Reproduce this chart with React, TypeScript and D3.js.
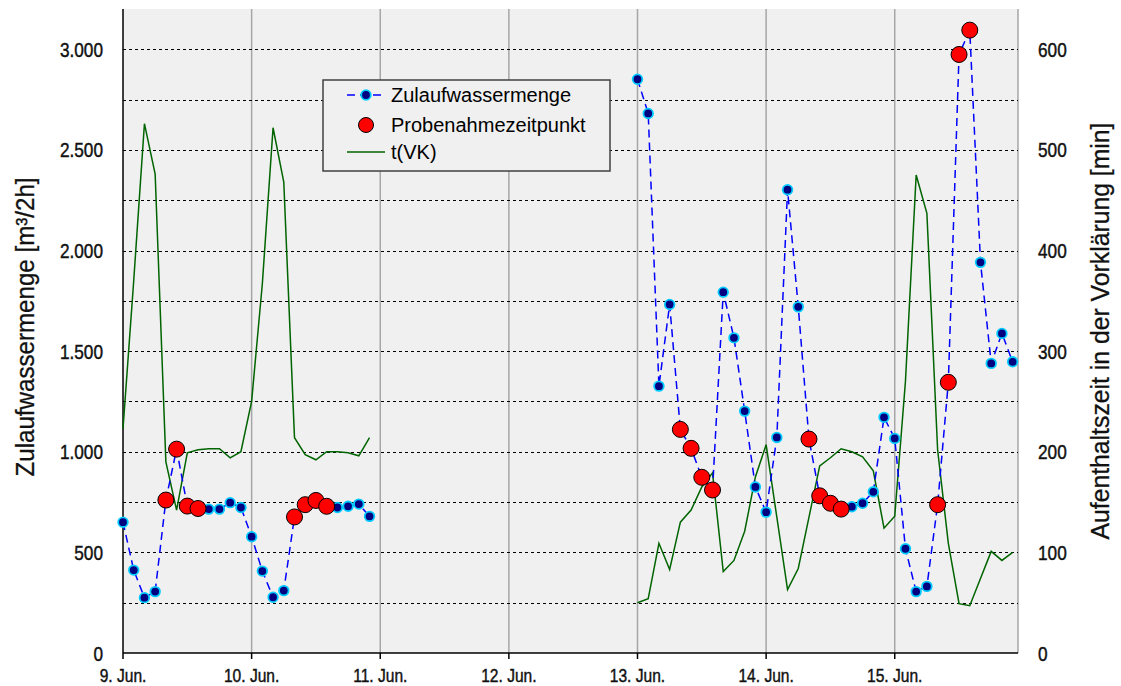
import React, { useEffect, useRef } from "react";
import * as d3 from "d3";

// Inflow per 2-hour interval [m³/2h], 12 readings per day starting at 00:00
const flowJun09 = [650, 412, 275, 305, 760, 1013, 730, 718, 715, 715, 747, 723];
const flowJun10 = [578, 407, 277, 310, 676, 737, 758, 729, 723, 729, 740, 679];
const flowJun13 = [2851, 2681, 1326, 1732, 1111, 1017, 873, 810, 1793, 1566, 1202, 825];
const flowJun14 = [700, 1071, 2302, 1720, 1063, 781, 744, 715, 727, 744, 801, 1171];
const flowJun15 = [1066, 518, 305, 331, 737, 1345, 2974, 3095, 1941, 1439, 1588, 1447];

// Residence time in the primary clarifier t(VK) [min], same 2-hour grid
const vkJun09 = [223, 370, 526, 476, 190, 142, 199, 202, 203, 203, 194, 200];
const vkJun10 = [250, 367, 522, 468, 214, 197, 192, 200, 200, 199, 196, 214];
const vkJun13 = [50, 54, 109, 83, 130, 142, 165, 179, 81, 92, 121, 175];
const vkJun14 = [207, 135, 63, 84, 135, 186, 194, 203, 200, 195, 181, 124];
const vkJun15 = [136, 270, 475, 437, 202, 109, 49, 47, 74, 101, 92, 100];

// Sampling times: slot indices (2-hour steps) within each measured day
const sampleSlots09 = [4, 5, 6, 7];
const sampleSlots10 = [4, 5, 6, 7];
const sampleSlots13 = [4, 5, 6, 7];
const sampleSlots14 = [4, 5, 6, 7];
const sampleSlots15 = [4, 5, 6, 7];

const dayTicks = ["9. Jun.", "10. Jun.", "11. Jun.", "12. Jun.", "13. Jun.", "14. Jun.", "15. Jun."];
const leftTicks = [0, 500, 1000, 1500, 2000, 2500, 3000];
const rightTicks = [0, 100, 200, 300, 400, 500, 600];
const gridStep = 250;

const legendLabels = ["Zulaufwassermenge", "Probenahmezeitpunkt", "t(VK)"];
const leftTitle = "Zulaufwassermenge [m³/2h]";
const rightTitle = "Aufenthaltszeit in der Vorklärung [min]";

type Pt = { t: Date; v: number };

function dayPoints(day: number, values: number[]): Pt[] {
  return values.map((v, i) => ({ t: new Date(Date.UTC(2020, 5, day, i * 2)), v }));
}

export default function App() {
  const ref = useRef<SVGSVGElement | null>(null);

  useEffect(() => {
    const svg = d3.select(ref.current);
    svg.selectAll("*").remove();

    const W = 1121, H = 686;
    const left = 123, right = 1018, top = 9, bottom = 653;
    const font = "'Liberation Sans', Arial, sans-serif";
    const narrowX = 0.82; // horizontal squeeze for the condensed axis lettering

    const x = d3.scaleUtc()
      .domain([new Date(Date.UTC(2020, 5, 9, 0)), new Date(Date.UTC(2020, 5, 15, 23))])
      .range([left, right]);
    const yL = d3.scaleLinear().domain([0, 3200]).range([bottom, top]);
    const yR = d3.scaleLinear().domain([0, 640]).range([bottom, top]);

    svg.append("rect").attr("width", W).attr("height", H).attr("fill", "#fff");
    svg.append("rect").attr("x", left).attr("y", top).attr("width", right - left)
      .attr("height", bottom - top).attr("fill", "#f0f0f0");

    const days = dayTicks.map((_, i) => new Date(Date.UTC(2020, 5, 9 + i)));

    // vertical day grid
    svg.append("g").selectAll("line").data(days.slice(1)).join("line")
      .attr("x1", (d) => x(d)).attr("x2", (d) => x(d))
      .attr("y1", top).attr("y2", bottom)
      .attr("stroke", "#a6a6a6").attr("stroke-width", 1.5);
    svg.append("line").attr("x1", right).attr("x2", right).attr("y1", top).attr("y2", bottom)
      .attr("stroke", "#a6a6a6").attr("stroke-width", 1.5);

    // horizontal dashed grid
    const gridVals = d3.range(gridStep, 3001, gridStep);
    svg.append("g").selectAll("line").data(gridVals).join("line")
      .attr("x1", left).attr("x2", right)
      .attr("y1", (d) => Math.round(yL(d)) + 0.5).attr("y2", (d) => Math.round(yL(d)) + 0.5)
      .attr("stroke", "#000").attr("stroke-width", 1).attr("stroke-dasharray", "3,3");

    // axis lines and day ticks
    svg.append("line").attr("x1", left).attr("x2", left).attr("y1", top).attr("y2", bottom)
      .attr("stroke", "#000").attr("stroke-width", 1.5);
    svg.append("line").attr("x1", left).attr("x2", right).attr("y1", bottom).attr("y2", bottom)
      .attr("stroke", "#000").attr("stroke-width", 1.5);
    svg.append("g").selectAll("line").data(days).join("line")
      .attr("x1", (d) => x(d)).attr("x2", (d) => x(d))
      .attr("y1", bottom).attr("y2", bottom + 6)
      .attr("stroke", "#000").attr("stroke-width", 1.5);

    // tick labels (condensed, slightly heavy)
    const axisText = svg.append("g").attr("fill", "#111").attr("stroke", "#111")
      .attr("stroke-width", 0.45).attr("font-family", font);
    axisText.append("g").selectAll("text").data(days).join("text")
      .attr("transform", (d) => `translate(${x(d)},682) scale(${narrowX},1)`)
      .attr("text-anchor", "middle").attr("font-size", 19)
      .text((_, i) => dayTicks[i]);
    const fmt = (v: number) => d3.format(",")(v).replace(/,/g, ".");
    axisText.append("g").selectAll("text").data(leftTicks).join("text")
      .attr("transform", (d) => `translate(103,${yL(d)}) scale(${narrowX},1)`)
      .attr("dy", "0.36em")
      .attr("text-anchor", "end").attr("font-size", 21)
      .text((d) => fmt(d));
    axisText.append("g").selectAll("text").data(rightTicks).join("text")
      .attr("transform", (d) => `translate(1038,${yR(d)}) scale(${narrowX},1)`)
      .attr("dy", "0.36em")
      .attr("text-anchor", "start").attr("font-size", 21)
      .text((d) => String(d));

    // axis titles
    axisText.append("text").attr("transform", "translate(25,327) rotate(-90)")
      .attr("text-anchor", "middle").attr("dy", "0.35em")
      .attr("font-size", 26).attr("stroke-width", 0.3)
      .attr("textLength", 299).attr("lengthAdjust", "spacingAndGlyphs").text(leftTitle);
    axisText.append("text").attr("transform", "translate(1100,331) rotate(-90)")
      .attr("text-anchor", "middle").attr("dy", "0.35em")
      .attr("font-size", 26).attr("stroke-width", 0.3)
      .attr("textLength", 417).attr("lengthAdjust", "spacingAndGlyphs").text(rightTitle);

    const flowA = [...dayPoints(9, flowJun09), ...dayPoints(10, flowJun10)];
    const flowB = [...dayPoints(13, flowJun13), ...dayPoints(14, flowJun14), ...dayPoints(15, flowJun15)];
    const vkA = [...dayPoints(9, vkJun09), ...dayPoints(10, vkJun10)];
    const vkB = [...dayPoints(13, vkJun13), ...dayPoints(14, vkJun14), ...dayPoints(15, vkJun15)];

    const samples: Pt[] = [
      ...sampleSlots09.map((i) => dayPoints(9, flowJun09)[i]),
      ...sampleSlots10.map((i) => dayPoints(10, flowJun10)[i]),
      ...sampleSlots13.map((i) => dayPoints(13, flowJun13)[i]),
      ...sampleSlots14.map((i) => dayPoints(14, flowJun14)[i]),
      ...sampleSlots15.map((i) => dayPoints(15, flowJun15)[i]),
    ];

    const lineL = d3.line<Pt>().x((d) => x(d.t)).y((d) => yL(d.v));
    const lineR = d3.line<Pt>().x((d) => x(d.t)).y((d) => yR(d.v));

    // t(VK)
    [vkA, vkB].forEach((seg) => {
      svg.append("path").attr("d", lineR(seg)).attr("fill", "none")
        .attr("stroke", "#006400").attr("stroke-width", 1.5);
    });

    // inflow
    [flowA, flowB].forEach((seg) => {
      svg.append("path").attr("d", lineL(seg)).attr("fill", "none")
        .attr("stroke", "#0000ff").attr("stroke-width", 1.5).attr("stroke-dasharray", "8,5");
    });
    svg.append("g").selectAll("circle").data([...flowA, ...flowB]).join("circle")
      .attr("cx", (d) => x(d.t)).attr("cy", (d) => yL(d.v)).attr("r", 4.8)
      .attr("fill", "#000080").attr("stroke", "#00ccff").attr("stroke-width", 1.8);

    // sampling times
    svg.append("g").selectAll("circle").data(samples).join("circle")
      .attr("cx", (d) => x(d.t)).attr("cy", (d) => yL(d.v)).attr("r", 8)
      .attr("fill", "#ff0000").attr("stroke", "#000").attr("stroke-width", 1);

    // legend
    const lg = svg.append("g");
    lg.append("rect").attr("x", 323).attr("y", 80).attr("width", 287).attr("height", 91)
      .attr("fill", "#f0f0f0").attr("stroke", "#404040").attr("stroke-width", 1.5);
    const rows = [95, 125, 152];
    lg.append("line").attr("x1", 347).attr("x2", 385).attr("y1", rows[0]).attr("y2", rows[0])
      .attr("stroke", "#0000ff").attr("stroke-width", 1.5).attr("stroke-dasharray", "8,5");
    lg.append("circle").attr("cx", 366).attr("cy", rows[0]).attr("r", 4.8)
      .attr("fill", "#000080").attr("stroke", "#00ccff").attr("stroke-width", 1.8);
    lg.append("circle").attr("cx", 366).attr("cy", rows[1]).attr("r", 7.5)
      .attr("fill", "#ff0000").attr("stroke", "#000").attr("stroke-width", 1);
    lg.append("line").attr("x1", 347).attr("x2", 385).attr("y1", rows[2]).attr("y2", rows[2])
      .attr("stroke", "#006400").attr("stroke-width", 1.5);
    lg.selectAll("text").data(legendLabels).join("text")
      .attr("x", 391).attr("y", (_, i) => rows[i]).attr("dy", "0.35em")
      .attr("font-family", font).attr("font-size", 20).text((d) => d);
  }, []);

  return (
    <svg ref={ref} width={1121} height={686}
      style={{ position: "absolute", left: 0, top: 0, display: "block" }} />
  );
}
